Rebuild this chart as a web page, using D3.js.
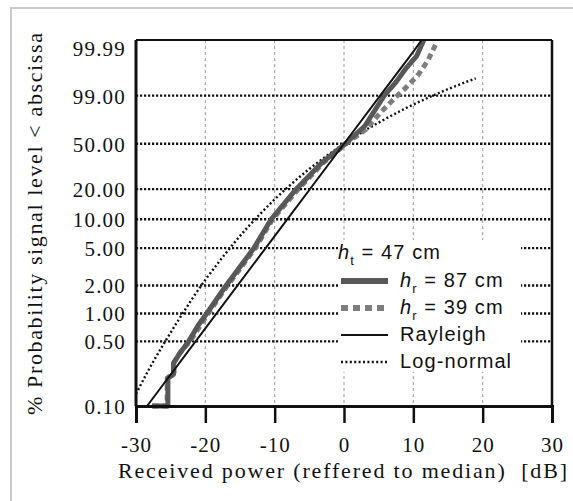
<!DOCTYPE html>
<meta charset="utf-8">
<script src="https://d3js.org/d3.v7.min.js"></script>
<html>
<head>
  <title>Received power distribution</title>
  <style>
    body { margin: 0; background: #fff; }
  </style>
</head>
<body>
  <div id="my_dataviz"></div>
</body>
</html>

<script>

  // axis ticks
  var xTicks = [-30, -20, -10, 0, 10, 20, 30];
  var yTickValues = [99.99, 90, 50, 20, 10, 5, 2, 1, 0.5, 0.1];
  var yTickLabels = ["99.99", "99.00", "50.00", "20.00", "10.00", "5.00", "2.00", "1.00", "0.50", "0.10"];

  // [dB, % probability]
  var hr87 = [[-27.7, 0.1], [-25.4, 0.1], [-25.4, 0.2], [-24.6, 0.22], [-24.6, 0.29], [-23.6, 0.38],
              [-22.4, 0.5], [-21, 0.75], [-19.8, 1], [-17, 2], [-13, 5], [-10.5, 10], [-6.9, 20],
              [-3.2, 35], [0.2, 50], [3, 66], [5.8, 90], [7.5, 96], [9, 99], [10.5, 99.8], [11.5, 99.99]];
  var hr39 = [[-27.6, 0.1], [-25.5, 0.1], [-25.5, 0.2], [-24.5, 0.23], [-24.5, 0.3], [-23.4, 0.4],
              [-22.2, 0.5], [-19.6, 1], [-16.8, 2], [-12.8, 5], [-10.3, 10], [-6.6, 20], [-3, 35],
              [0.3, 50], [3.2, 63], [4.1, 70], [5.8, 81], [7.7, 90], [8.7, 93.3], [10.6, 97.7],
              [12.1, 99.6], [13.3, 99.98]];
  var rayleigh = [[-28.4, 0.1], [-20, 0.69], [-10, 6.7], [0, 50], [5, 88.8], [10, 99.9], [11.2, 99.99]];
  var lognormal = [[-30, 0.135], [-28, 0.26], [-26, 0.47], [-24, 0.82], [-22, 1.4], [-20, 2.3], [-18, 3.6],
                   [-16, 5.5], [-14, 8.1], [-12, 11.5], [-10, 15.9], [-8, 21.2], [-5, 30.9], [-2, 42],
                   [0, 50], [2, 58], [5, 69.1], [9, 81.6], [13, 90.3], [16, 94.5], [19, 97.1]];

  var legendItems = [
    {sub: "r", val: "87 cm", kind: "hr87"},
    {sub: "r", val: "39 cm", kind: "hr39"},
    {label: "Rayleigh", kind: "rayleigh"},
    {label: "Log-normal", kind: "lognormal"}
  ];

  var SERIF = '"Liberation Serif"';
  var SANS = '"Liberation Sans"';

  var W = 573, H = 501;
  var margin = {top: 40, right: 21, bottom: 95, left: 136};
  var width = W - margin.left - margin.right,
      height = H - margin.top - margin.bottom;

  var svg = d3.select("#my_dataviz")
    .append("svg")
      .attr("width", W)
      .attr("height", H);

  // light frame around the figure
  svg.append("rect")
    .attr("x", 11).attr("y", 8)
    .attr("width", 700).attr("height", 700)
    .style("fill", "none")
    .style("stroke", "#c9c9c9")
    .style("stroke-width", 2);

  var g = svg.append("g")
    .attr("transform", "translate(" + margin.left + "," + margin.top + ")");

  var x = d3.scaleLinear().domain([-30, 30]).range([0, width]);

  // Rayleigh probability paper: log10(-ln(1-p))
  var ray = function(p) { return Math.log10(-Math.log(1 - p / 100)); };
  var yLin = d3.scaleLinear().domain([ray(0.1), ray(99.99)]).range([height, 0]);
  var y = function(p) { return yLin(ray(p)); };

  // vertical grid
  g.append("g")
    .selectAll("line")
    .data(xTicks.slice(1, -1))
    .enter().append("line")
      .attr("x1", function(d) { return x(d); })
      .attr("x2", function(d) { return x(d); })
      .attr("y1", 0).attr("y2", height)
      .style("stroke", "#9a9a9a")
      .style("stroke-width", 1)
      .style("stroke-dasharray", "3,3");

  // horizontal grid (dotted)
  g.append("g")
    .selectAll("line")
    .data(yTickValues.slice(1, -1))
    .enter().append("line")
      .attr("x1", 0).attr("x2", width)
      .attr("y1", function(d) { return y(d); })
      .attr("y2", function(d) { return y(d); })
      .style("stroke", "#111")
      .style("stroke-width", 2.3)
      .style("stroke-dasharray", "2.2,1.8");

  // legend background hides the grid
  g.append("rect")
    .attr("x", 338 - margin.left).attr("y", 240 - margin.top)
    .attr("width", 183).attr("height", 132)
    .style("fill", "#fff");

  var line = d3.line()
    .x(function(d) { return x(d[0]); })
    .y(function(d) { return y(d[1]); });

  var smooth = d3.line()
    .x(function(d) { return x(d[0]); })
    .y(function(d) { return y(d[1]); })
    .curve(d3.curveMonotoneX);

  var styles = {
    hr87: {stroke: "#585858", w: 5, dash: null},
    hr39: {stroke: "#7e7e7e", w: 5, dash: "6,4"},
    rayleigh: {stroke: "#111", w: 2, dash: null},
    lognormal: {stroke: "#111", w: 2.4, dash: "2,2.4"}
  };

  function draw(data, key, gen) {
    var s = styles[key];
    g.append("path")
      .datum(data)
      .attr("d", gen)
      .style("fill", "none")
      .style("stroke", s.stroke)
      .style("stroke-width", s.w)
      .style("stroke-linejoin", "round")
      .style("stroke-dasharray", s.dash);
  }

  draw(lognormal, "lognormal", smooth);
  draw(hr39, "hr39", line);
  draw(hr87, "hr87", line);
  draw(rayleigh, "rayleigh", line);

  // frame
  g.append("line").attr("x1", 0).attr("x2", width).attr("y1", 0).attr("y2", 0)
    .style("stroke", "#111").style("stroke-width", 2.2);
  g.append("line").attr("x1", width).attr("x2", width).attr("y1", 0).attr("y2", height)
    .style("stroke", "#111").style("stroke-width", 2.5);
  g.append("line").attr("x1", 0).attr("x2", 0).attr("y1", 0).attr("y2", height)
    .style("stroke", "#111").style("stroke-width", 3);

  // x axis
  var xAxis = g.append("g")
    .attr("transform", "translate(0," + height + ")")
    .call(d3.axisBottom(x).tickValues(xTicks).tickSize(17).tickPadding(14)
      .tickFormat(function(d) { return String(d); }));
  xAxis.select(".domain").style("stroke", "#111").style("stroke-width", 3);
  xAxis.selectAll(".tick line").style("stroke", "#111").style("stroke-width", 2.5);
  xAxis.selectAll("text")
    .style("font-family", SERIF)
    .style("font-size", "21px")
    .style("letter-spacing", "1px")
    .style("fill", "#111");

  // y labels
  g.append("g")
    .selectAll("text")
    .data(yTickValues)
    .enter().append("text")
      .attr("x", -10)
      .attr("y", function(d) { return Math.max(y(d) + 8, 16); })
      .attr("text-anchor", "end")
      .style("font-family", SERIF)
      .style("font-size", "21px")
      .style("letter-spacing", "1.2px")
      .style("fill", "#111")
      .text(function(d, i) { return yTickLabels[i]; });

  // axis titles
  svg.append("text")
    .attr("x", 118).attr("y", 478)
    .attr("textLength", 449)
    .attr("lengthAdjust", "spacing")
    .style("font-family", SERIF)
    .style("font-size", "22px")
    .style("white-space", "pre")
    .style("fill", "#111")
    .text("Received power (reffered to median)  [dB]");

  svg.append("text")
    .attr("transform", "translate(42,415) rotate(-90)")
    .attr("textLength", 382)
    .attr("lengthAdjust", "spacing")
    .style("font-family", SERIF)
    .style("font-size", "22px")
    .style("fill", "#111")
    .text("% Probability signal level < abscissa");

  // legend
  var lg = svg.append("g");

  var t0 = lg.append("text")
    .attr("x", 338).attr("y", 259)
    .style("font-family", SANS).style("font-size", "20px").style("letter-spacing", "1.1px")
    .style("fill", "#111");
  t0.append("tspan").style("font-style", "italic").text("h");
  t0.append("tspan").attr("dy", 6).style("font-size", "13px").text("t");
  t0.append("tspan").attr("dy", -6).text(" = 47 cm");

  var rows = lg.selectAll(".row")
    .data(legendItems)
    .enter().append("g")
      .attr("class", "row")
      .attr("transform", function(d, i) { return "translate(0," + (287 + i * 27) + ")"; });

  rows.append("line")
    .attr("x1", 341).attr("x2", 388)
    .attr("y1", -6).attr("y2", -6)
    .style("stroke", function(d) { return styles[d.kind].stroke; })
    .style("stroke-width", function(d) { return d.kind == "hr87" || d.kind == "hr39" ? 6 : styles[d.kind].w; })
    .style("stroke-dasharray", function(d) { return d.kind == "hr39" ? "7,5" : styles[d.kind].dash; });

  rows.each(function(d) {
    var t = d3.select(this).append("text")
      .attr("x", 400).attr("y", 0)
      .style("font-family", SANS).style("font-size", "20px").style("letter-spacing", "1.1px")
      .style("fill", "#111");
    if (d.sub) {
      t.append("tspan").style("font-style", "italic").text("h");
      t.append("tspan").attr("dy", 6).style("font-size", "13px").text(d.sub);
      t.append("tspan").attr("dy", -6).text(" = " + d.val);
    } else {
      t.text(d.label);
    }
  });

</script>
